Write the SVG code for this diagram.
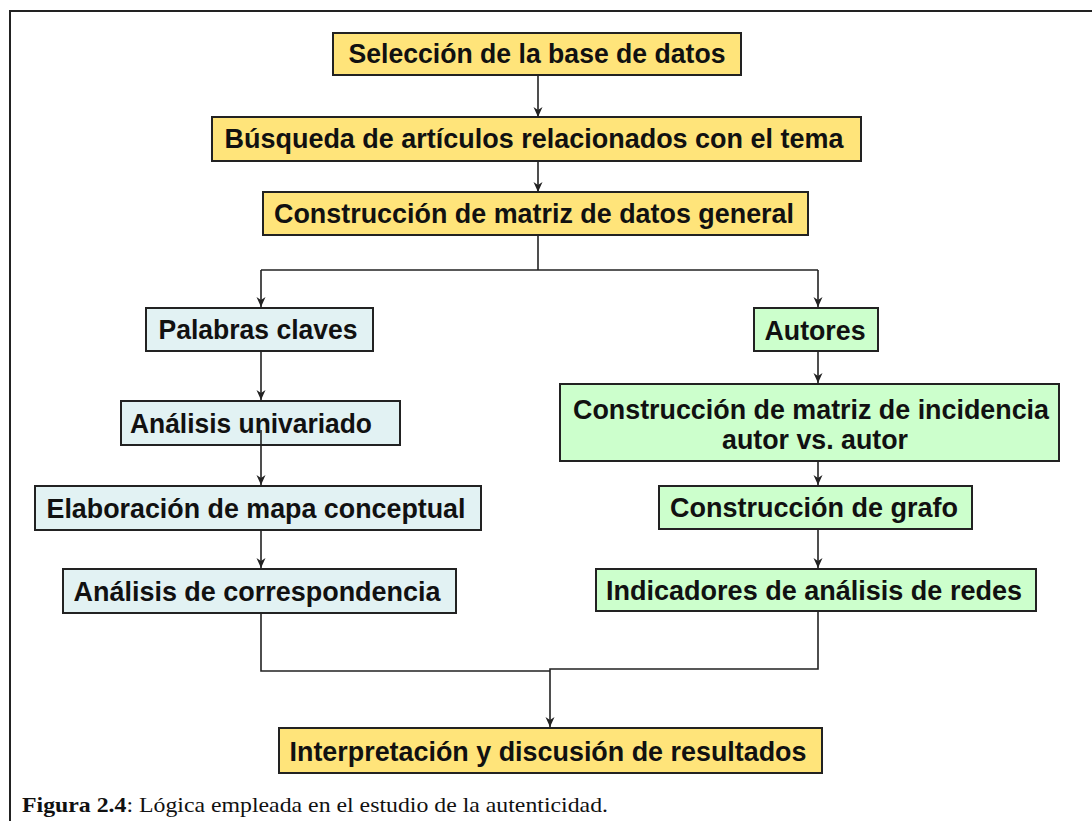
<svg xmlns="http://www.w3.org/2000/svg" width="1092" height="821" viewBox="0 0 1092 821">
<defs>
<marker id="ah" viewBox="0 0 10 10" refX="10" refY="5" markerWidth="10" markerHeight="10" markerUnits="userSpaceOnUse" orient="auto">
<path d="M0,0.5 L10,5 L0,9.5 L3,5 Z" fill="#222"/>
</marker>
<style>
.box{stroke:#222;stroke-width:2}
.y{fill:#FFE47A}
.b{fill:#E2F2F3}
.g{fill:#CCFFCC}
.t{font-family:"Liberation Sans",Arial,sans-serif;font-weight:bold;font-size:28px;fill:#111;text-anchor:middle}
.c{fill:none;stroke:#222;stroke-width:1.6}
.a{marker-end:url(#ah)}
.cap{font-family:"Liberation Serif","Times New Roman",serif;font-size:21px;fill:#111}
</style>
</defs>
<rect x="0" y="0" width="1092" height="821" fill="#fff"/>
<path d="M10,1000 L10,11 L1200,11" fill="none" stroke="#222" stroke-width="2"/>
<g id="n1"><rect class="box y" x="333" y="33" width="408" height="42"/><text class="t" x="537" y="63" textLength="377" lengthAdjust="spacingAndGlyphs">Selección de la base de datos</text></g>
<g id="n2"><rect class="box y" x="212" y="117" width="649" height="44"/><text class="t" x="534" y="148" textLength="619" lengthAdjust="spacingAndGlyphs">Búsqueda de artículos relacionados con el tema</text></g>
<g id="n3"><rect class="box y" x="263" y="192" width="545" height="43"/><text class="t" x="534" y="223" textLength="520" lengthAdjust="spacingAndGlyphs">Construcción  de matriz de datos general</text></g>
<g id="n4"><rect class="box b" x="146" y="308" width="227" height="43"/><text class="t" x="258" y="339" textLength="199" lengthAdjust="spacingAndGlyphs">Palabras claves</text></g>
<g id="n5"><rect class="box b" x="121" y="401" width="279" height="44"/><text class="t" x="251" y="433" textLength="242" lengthAdjust="spacingAndGlyphs">Análisis univariado</text></g>
<g id="n6"><rect class="box b" x="35" y="486" width="446" height="44"/><text class="t" x="256" y="518" textLength="419" lengthAdjust="spacingAndGlyphs">Elaboración  de mapa conceptual</text></g>
<g id="n7"><rect class="box b" x="63" y="569" width="393" height="44"/><text class="t" x="257" y="601" textLength="367" lengthAdjust="spacingAndGlyphs">Análisis de correspondencia</text></g>
<g id="n8"><rect class="box g" x="754" y="308" width="124" height="43"/><text class="t" x="815" y="340" textLength="101" lengthAdjust="spacingAndGlyphs">Autores</text></g>
<g id="n9"><rect class="box g" x="560" y="384" width="499" height="77"/><text class="t" x="811" y="419" textLength="476" lengthAdjust="spacingAndGlyphs">Construcción  de matriz de incidencia</text><text class="t" x="815" y="449" textLength="186" lengthAdjust="spacingAndGlyphs">autor vs. autor</text></g>
<g id="n10"><rect class="box g" x="659" y="486" width="313" height="43"/><text class="t" x="814" y="517" textLength="288" lengthAdjust="spacingAndGlyphs">Construcción  de grafo</text></g>
<g id="n11"><rect class="box g" x="596" y="569" width="440" height="42"/><text class="t" x="814" y="600" textLength="416" lengthAdjust="spacingAndGlyphs">Indicadores de análisis de redes</text></g>
<g id="n12"><rect class="box y" x="279" y="728" width="543" height="45"/><text class="t" x="548" y="761" textLength="517" lengthAdjust="spacingAndGlyphs">Interpretación y discusión  de resultados</text></g>
<g id="connectors">
<line class="c a" x1="538" y1="75" x2="538" y2="117"/>
<line class="c a" x1="538" y1="161" x2="538" y2="192"/>
<polyline class="c" points="538,235 538,270"/>
<polyline class="c a" points="261,270 261,307"/>
<polyline class="c" points="261,270 818,270"/>
<polyline class="c a" points="818,270 818,307"/>
<line class="c a" x1="261" y1="351" x2="261" y2="400"/>
<line class="c a" x1="261" y1="430" x2="261" y2="485"/>
<line class="c a" x1="261" y1="530" x2="261" y2="568"/>
<line class="c a" x1="818" y1="351" x2="818" y2="383"/>
<line class="c a" x1="818" y1="461" x2="818" y2="485"/>
<line class="c a" x1="818" y1="529" x2="818" y2="568"/>
<polyline class="c" points="261,613 261,671 550,671"/>
<polyline class="c" points="818,611 818,669 550,669 550,671"/>
<line class="c a" x1="550" y1="671" x2="550" y2="727"/>
</g>
<text class="cap" x="22" y="812" textLength="586" lengthAdjust="spacingAndGlyphs"><tspan font-weight="bold">Figura 2.4</tspan>: Lógica empleada en el estudio de la autenticidad.</text>
</svg>
